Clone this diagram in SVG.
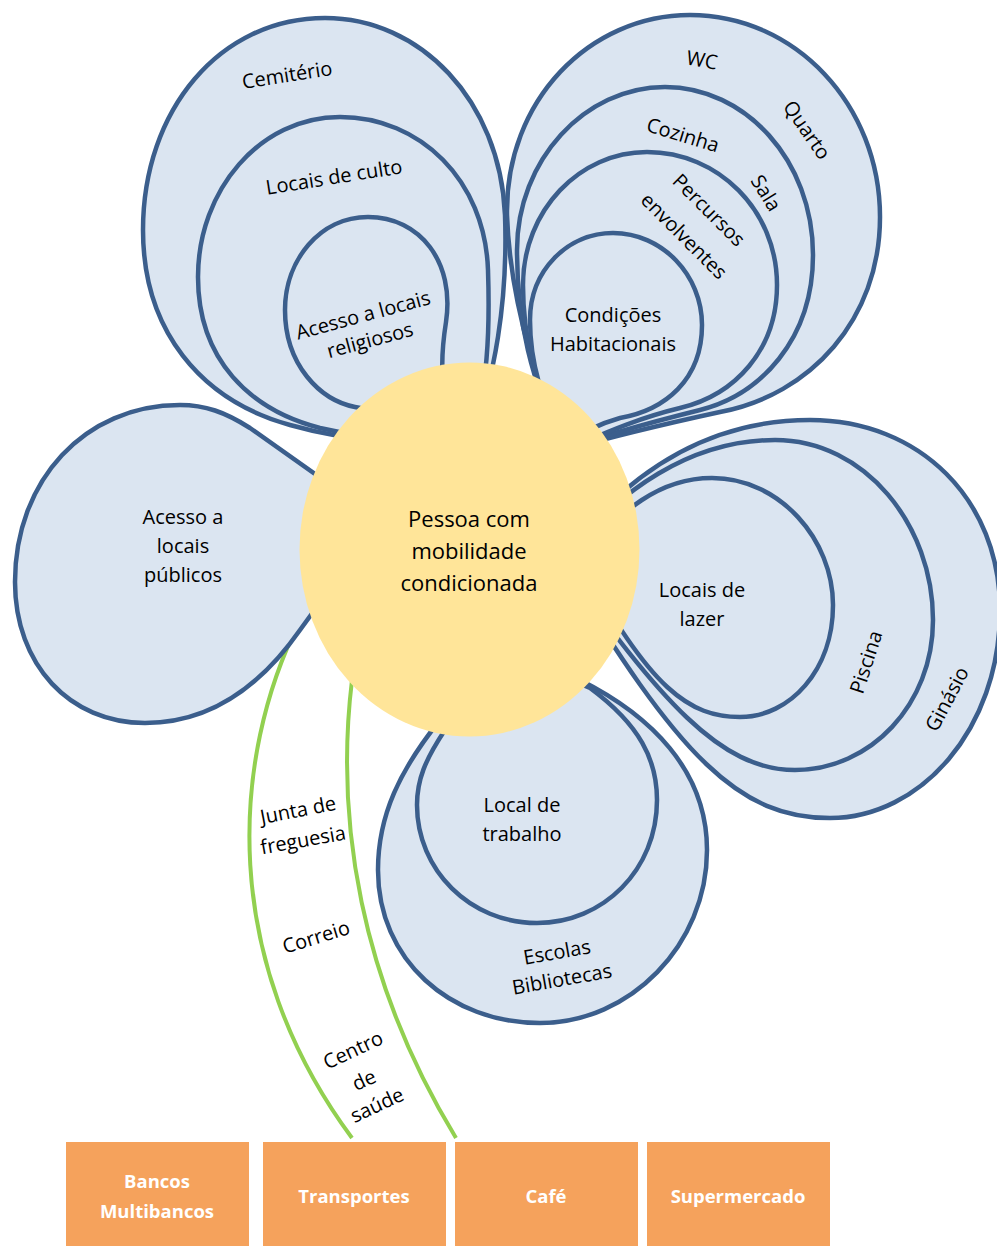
<svg xmlns="http://www.w3.org/2000/svg" width="997" height="1246" viewBox="0 0 997 1246">
<style>
.p{fill:#DBE5F1;stroke:#3B5E8C;stroke-width:4.5;stroke-linejoin:round}
.t{font-family:"Open Sans","Liberation Sans",sans-serif;font-size:20px;fill:#000;text-anchor:middle}
.c{font-size:22px}
.b{font-family:"Open Sans","Liberation Sans",sans-serif;font-size:18.5px;font-weight:bold;fill:#fff;text-anchor:middle}
.s{fill:none;stroke:#92D050;stroke-width:4}
.box{fill:#F5A25C}
</style>
<rect width="997" height="1246" fill="#fff"/>
<g id="connectors">
<path class="s" d="M300,620 C230,760 220,960 352,1138"/>
<path class="s" d="M352,680 C335,820 360,980 456,1138"/>
</g>
<g id="petal-left">
<path class="p" d="M380,520 L250,428 C225,412 205,405 180,405 C85,405 15,480 15,582 C15,665 70,723 145,723 C215,723 265,680 300,630 L380,520 Z"/>
<text class="t" x="183" y="524">Acesso a</text>
<text class="t" x="183" y="553">locais</text>
<text class="t" x="183" y="582">públicos</text>
</g>
<g id="petal-topleft">
<path class="p" d="M470,440 C495,380 508,300 505,215 C500,100 420,18 325,18 C220,18 143,110 143,230 C143,330 200,400 290,425 C360,445 430,445 470,440 Z"/>
<path class="p" d="M470,440 C488,390 490,330 488,270 C485,180 420,117 340,117 C260,117 198,190 198,277 C198,360 250,410 320,428 C380,442 440,442 470,440 Z"/>
<path class="p" d="M455,425 C440,395 440,360 446,322 C455,262 420,217 368,217 C320,217 285,260 285,310 C285,365 320,400 355,407 C390,414 425,422 455,425 Z"/>
<text class="t" transform="rotate(-9 287 75)" x="287" y="82">Cemitério</text>
<text class="t" transform="rotate(-9 334 177)" x="334" y="184">Locais de culto</text>
<text class="t" transform="rotate(-15 363 315)" x="363" y="322">Acesso a locais</text>
<text class="t" transform="rotate(-15 370 340)" x="370" y="347">religiosos</text>
</g>
<g id="petal-topright">
<path class="p" d="M565,450 C535,380 510,300 507,215 C505,100 590,15 690,15 C795,15 880,105 880,217 C880,320 810,395 720,412 C660,425 600,440 565,450 Z"/>
<path class="p" d="M565,450 C530,380 517,320 517,250 C517,160 585,87 665,87 C745,87 813,160 813,255 C813,340 760,395 700,410 C640,425 590,440 565,450 Z"/>
<path class="p" d="M565,450 C533,390 523,330 523,285 C523,210 580,152 647,152 C718,152 777,210 777,285 C777,350 735,395 680,408 C630,420 590,440 565,450 Z"/>
<path class="p" d="M565,445 C540,400 530,360 530,320 C530,270 568,233 613,233 C662,233 702,275 702,325 C702,380 665,410 620,418 C595,425 578,435 565,445 Z"/>
<text class="t" transform="rotate(10 702 60)" x="702" y="67">WC</text>
<text class="t" transform="rotate(55 807 130)" x="807" y="137">Quarto</text>
<text class="t" transform="rotate(17 683 135)" x="683" y="142">Cozinha</text>
<text class="t" transform="rotate(58 766 193)" x="766" y="200">Sala</text>
<text class="t" transform="rotate(45 709 210)" x="709" y="217">Percursos</text>
<text class="t" transform="rotate(45 684 236)" x="684" y="243">envolventes</text>
<text class="t" x="613" y="322">Condições</text>
<text class="t" x="613" y="351">Habitacionais</text>
</g>
<g id="petal-right">
<path class="p" d="M560,560 C620,480 700,420 810,420 C920,420 1000,500 1000,610 C1000,730 920,818 830,818 C740,818 680,760 560,560 Z"/>
<path class="p" d="M560,560 C620,490 690,440 775,440 C865,440 933,525 933,620 C933,705 870,770 795,770 C720,770 660,700 560,560 Z"/>
<path class="p" d="M580,560 C620,510 660,478 712,478 C780,478 833,540 833,605 C833,670 790,717 740,717 C690,717 650,690 580,560 Z"/>
<text class="t" x="702" y="597">Locais de</text>
<text class="t" x="702" y="626">lazer</text>
<text class="t" transform="rotate(-72 866 662)" x="866" y="669">Piscina</text>
<text class="t" transform="rotate(-62 947 699)" x="947" y="706">Ginásio</text>
</g>
<g id="petal-bottom">
<path class="p" d="M500,650 L440,720 C400,770 378,815 378,870 C378,960 450,1023 540,1023 C630,1023 707,945 707,850 C707,770 650,715 580,680 Z"/>
<path class="p" d="M500,650 L445,730 C425,760 417,780 417,805 C417,870 470,923 537,923 C603,923 657,870 657,800 C657,760 640,725 590,688 Z"/>
<text class="t" x="522" y="812">Local de</text>
<text class="t" x="522" y="841">trabalho</text>
<text class="t" transform="rotate(-10 557 952)" x="557" y="959">Escolas</text>
<text class="t" transform="rotate(-10 562 979)" x="562" y="986">Bibliotecas</text>
</g>
<g id="center">
<ellipse cx="469.5" cy="549.5" rx="170" ry="187" fill="#FFE599"/>
<text class="t c" x="469" y="527">Pessoa com</text>
<text class="t c" x="469" y="559">mobilidade</text>
<text class="t c" x="469" y="591">condicionada</text>
</g>
<g id="stem-labels">
<text class="t" transform="rotate(-11 298 810)" x="298" y="817">Junta de</text>
<text class="t" transform="rotate(-10 303 840)" x="303" y="847">freguesia</text>
<text class="t" transform="rotate(-17 316 937)" x="316" y="944">Correio</text>
<text class="t" transform="rotate(-25 353 1050)" x="353" y="1057">Centro</text>
<text class="t" transform="rotate(-25 364 1080)" x="364" y="1087">de</text>
<text class="t" transform="rotate(-25 377 1105)" x="377" y="1112">saúde</text>
</g>
<g id="box-bancos">
<rect class="box" x="66" y="1142" width="183" height="104"/>
<text class="b" x="157" y="1188">Bancos</text>
<text class="b" x="157" y="1218">Multibancos</text>
</g>
<g id="box-transportes">
<rect class="box" x="263" y="1142" width="183" height="104"/>
<text class="b" x="354" y="1203">Transportes</text>
</g>
<g id="box-cafe">
<rect class="box" x="455" y="1142" width="183" height="104"/>
<text class="b" x="546" y="1203">Café</text>
</g>
<g id="box-supermercado">
<rect class="box" x="647" y="1142" width="183" height="104"/>
<text class="b" x="738" y="1203">Supermercado</text>
</g>
</svg>
